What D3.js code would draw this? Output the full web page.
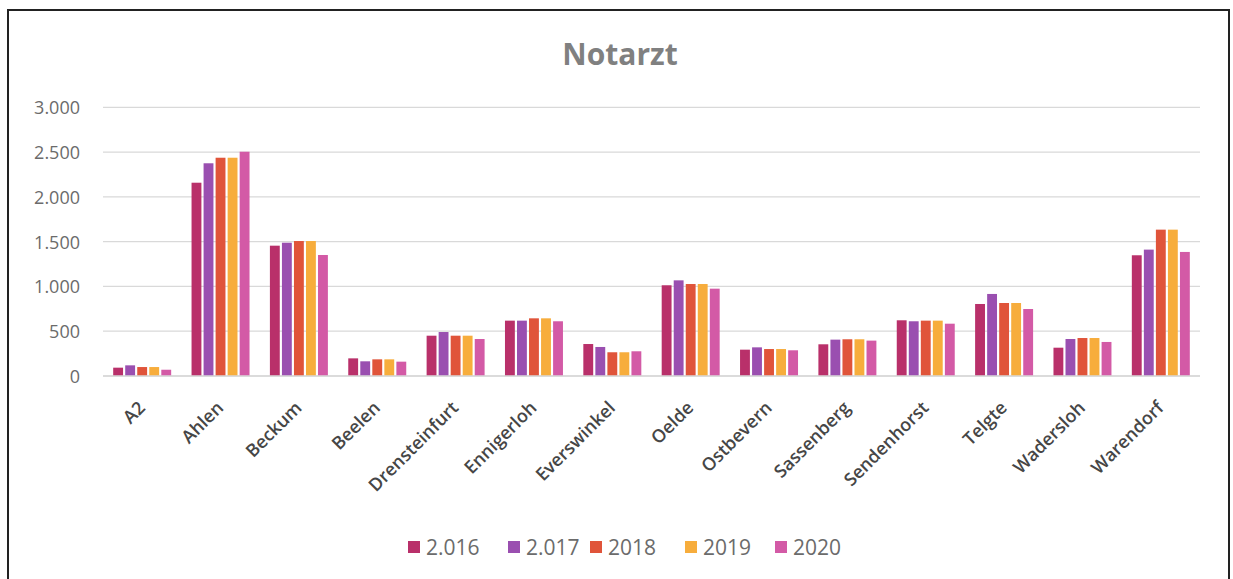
<!DOCTYPE html>
<html><head><meta charset="utf-8">
<script src="https://cdn.jsdelivr.net/npm/d3@7"></script>
<style>
html,body{margin:0;padding:0;background:#fff;}
svg{display:block;font-family:"Open Sans","Liberation Sans",sans-serif;}
</style></head>
<body><svg id="c" width="1233" height="579"></svg>
<script>
const title = "Notarzt";
const categories = ["A2","Ahlen","Beckum","Beelen","Drensteinfurt","Ennigerloh","Everswinkel","Oelde","Ostbevern","Sassenberg","Sendenhorst","Telgte","Wadersloh","Warendorf"];
const seriesNames = ["2.016","2.017","2018","2019","2020"];
const s2016 = [93,2158,1455,197,450,618,357,1013,294,354,622,804,316,1348];
const s2017 = [119,2375,1488,164,491,618,324,1068,320,406,611,916,413,1411];
const s2018 = [100,2437,1507,186,450,644,265,1027,301,410,618,815,424,1634];
const s2019 = [100,2437,1507,186,450,644,265,1027,301,410,618,815,424,1634];
const s2020 = [70,2504,1351,160,413,611,276,975,287,395,584,748,380,1385];
const yTicks = [0,500,1000,1500,2000,2500,3000];
const colors = ["#b9306a","#9a4fb0","#e0543a","#f7ad3c","#d35aa6"];

const series = [s2016,s2017,s2018,s2019,s2020];
const FONT = "'Open Sans','Liberation Sans',sans-serif";
const svg = d3.select("#c");

// frame
svg.append("rect").attr("x",8).attr("y",10).attr("width",1221).attr("height",600)
  .attr("fill","none").attr("stroke","#222").attr("stroke-width",2);

const x0 = d3.scaleBand().domain(categories).range([103,1200]).paddingInner(0.26).paddingOuter(0.13);
const x1 = d3.scaleBand().domain(seriesNames).range([0,x0.bandwidth()]).paddingInner(0.18);
const y = d3.scaleLinear().domain([0,3000]).range([376,107.3]);

// gridlines
svg.append("g").selectAll("line").data(yTicks).join("line")
  .attr("x1",103).attr("x2",1200).attr("y1",d=>y(d)).attr("y2",d=>y(d))
  .attr("stroke","#d9d9d9").attr("stroke-width",1.3);

// y axis
const fmt = d3.formatLocale({decimal:",",thousands:".",grouping:[3],currency:["",""]}).format(",");
const yAxis = svg.append("g").attr("transform","translate(80,0)")
  .call(d3.axisLeft(y).tickValues(yTicks).tickFormat(fmt).tickSize(0).tickPadding(0));
yAxis.attr("font-family",FONT).attr("font-size",18);
yAxis.select(".domain").remove();
yAxis.selectAll("text").attr("fill","#6b6b6b").attr("dy","0.36em");

// bars
const g = svg.append("g");
categories.forEach((c,i)=>{
  series.forEach((s,j)=>{
    g.append("rect")
      .attr("x",x0(c)+x1(seriesNames[j]))
      .attr("width",x1.bandwidth())
      .attr("y",y(s[i]))
      .attr("height",y(0)-y(s[i]))
      .attr("fill",colors[j]);
  });
});

// x axis
const xAxis = svg.append("g").attr("transform","translate(0,376)")
  .call(d3.axisBottom(x0).tickSize(0).tickPadding(0));
xAxis.attr("font-family",FONT).attr("font-size",18);
xAxis.select(".domain").attr("stroke","#d9d9d9").attr("stroke-width",1.3).attr("d","M103,0H1200");
xAxis.selectAll("text")
  .attr("font-weight",600).attr("fill","#464646")
  .attr("text-anchor","end")
  .attr("y",0).attr("dy",0)
  .attr("transform","translate(4,33) rotate(-45)");

// title
svg.append("text").attr("x",620).attr("y",65).attr("text-anchor","middle")
  .attr("font-size",30).attr("font-weight",700).attr("fill","#808080").text(title);

// legend
const legX = [408,508,590,685,775];
const leg = svg.append("g");
seriesNames.forEach((n,j)=>{
  leg.append("rect").attr("x",legX[j]).attr("y",541).attr("width",12).attr("height",12).attr("fill",colors[j]);
  leg.append("text").attr("x",legX[j]+18).attr("y",555).attr("font-size",21).attr("fill","#6b6b6b").text(n);
});
</script></body></html>
